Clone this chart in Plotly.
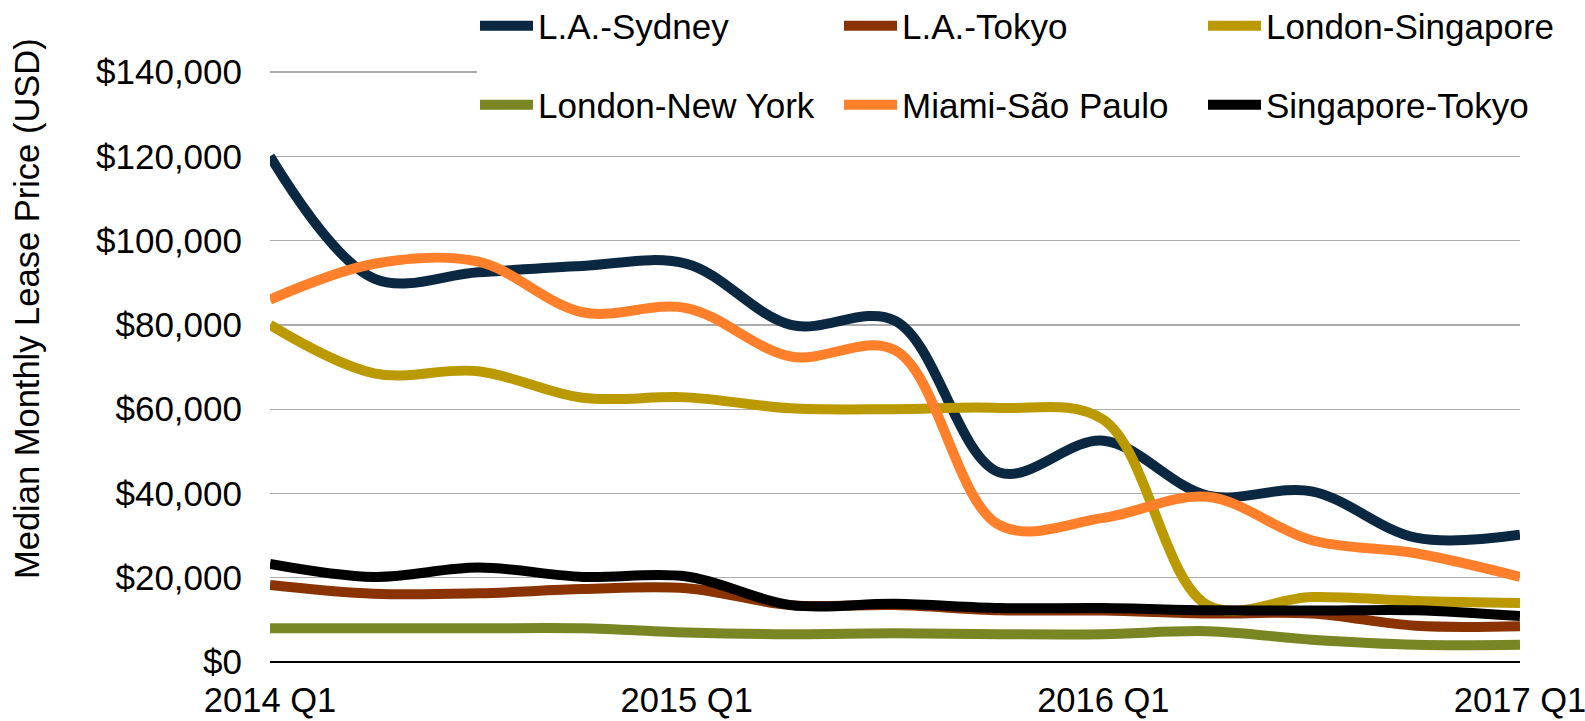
import plotly.graph_objects as go

quarters = ["2014 Q1", "2014 Q2", "2014 Q3", "2014 Q4",
            "2015 Q1", "2015 Q2", "2015 Q3", "2015 Q4",
            "2016 Q1", "2016 Q2", "2016 Q3", "2016 Q4", "2017 Q1"]
x_tick_labels = ["2014 Q1", "2015 Q1", "2016 Q1", "2017 Q1"]
y_tick_values = [0, 20000, 40000, 60000, 80000, 100000, 120000, 140000]
y_tick_labels = ["$0", "$20,000", "$40,000", "$60,000", "$80,000",
                 "$100,000", "$120,000", "$140,000"]

la_sydney = [120000, 91000, 92500, 94000, 94500, 80000, 81000, 45000, 52500, 39500, 40500, 29500, 30200]
la_tokyo = [18300, 16200, 16300, 17300, 17500, 13500, 13500, 12300, 12200, 11500, 11500, 8600, 8500]
london_singapore = [80000, 68500, 69000, 62700, 62800, 60200, 60000, 60300, 57500, 13500, 15400, 14500, 14000]
london_newyork = [8000, 8000, 8000, 8000, 7000, 6600, 6800, 6600, 6600, 7300, 5300, 4100, 4100]
miami_saopaulo = [86000, 94500, 95000, 83000, 84000, 72500, 74000, 32500, 34200, 39200, 28900, 25800, 20200]
singapore_tokyo = [23300, 20200, 22400, 20200, 20300, 13500, 13800, 12800, 12800, 12300, 12200, 12300, 10900]

series = [
    ("L.A.-Sydney", la_sydney, "#0b2842", "legend"),
    ("L.A.-Tokyo", la_tokyo, "#8a3200", "legend"),
    ("London-Singapore", london_singapore, "#bb9900", "legend"),
    ("London-New York", london_newyork, "#7a8624", "legend2"),
    ("Miami-São Paulo", miami_saopaulo, "#ff7f2a", "legend2"),
    ("Singapore-Tokyo", singapore_tokyo, "#000000", "legend2"),
]

x_idx = list(range(len(quarters)))

fig = go.Figure()
for name, vals, color, lg in series:
    fig.add_trace(go.Scatter(
        x=x_idx, y=vals, name=name, mode="lines",
        line=dict(color=color, width=10, shape="spline", smoothing=1.0),
        legend=lg,
    ))

FONT = "Liberation Sans, Arial, Helvetica, sans-serif"

leg_common = dict(
    orientation="h", xref="container", yref="paper",
    xanchor="left", yanchor="middle",
    bgcolor="white", borderwidth=0,
    font=dict(family=FONT, size=35, color="black"),
    itemwidth=53, entrywidth=296, entrywidthmode="pixels",
    tracegroupgap=0, itemclick=False,
)

W, H = 1585, 721
ML, MR, MT, MB = 270, 65, 71, 59
PW = W - ML - MR
PH = H - MT - MB

fig.update_layout(
    width=W, height=H,
    margin=dict(l=ML, r=MR, t=MT, b=MB, autoexpand=False),
    paper_bgcolor="white", plot_bgcolor="white",
    font=dict(family=FONT, color="black"),
    showlegend=True,
    legend=dict(x=475 / W, y=1 + (MT - 26) / PH, **leg_common),
    legend2=dict(x=475 / W, y=1 + (MT - 105) / PH, **leg_common),
    xaxis=dict(
        range=[0, 12], tickvals=[0, 4, 8, 12], ticktext=x_tick_labels,
        showgrid=False, zeroline=False, showline=False, ticks="",
        tickfont=dict(family=FONT, size=34.5, color="black"),
        ticklabelstandoff=14, ticklabeloverflow="allow",
        automargin=False, fixedrange=True,
    ),
    yaxis=dict(
        range=[0, 140250], tickvals=y_tick_values, ticktext=y_tick_labels,
        showgrid=True, gridcolor="#ababab", gridwidth=1.3,
        zeroline=True, zerolinecolor="black", zerolinewidth=1.5,
        showline=False, ticks="",
        tickfont=dict(family=FONT, size=35, color="black"),
        ticklabelstandoff=27, ticklabeloverflow="allow",
        automargin=False, fixedrange=True,
    ),
    annotations=[dict(
        text="Median Monthly Lease Price (USD)", textangle=-90,
        xref="paper", yref="paper",
        x=(27 - ML) / PW, y=(H - MB - 309) / PH,
        xanchor="center", yanchor="middle", showarrow=False,
        font=dict(family=FONT, size=34.5, color="black"),
    )],
    shapes=[dict(type="rect", xref="paper", yref="paper",
                 x0=(477 - ML) / PW, x1=1.06, y0=0.975, y1=1.02,
                 fillcolor="white", line=dict(width=0), layer="above")],
)

fig.write_html(
    "out.html",
    config={"displayModeBar": False, "staticPlot": True},
    post_script="document.body.style.margin='0';document.body.style.padding='0';",
)
